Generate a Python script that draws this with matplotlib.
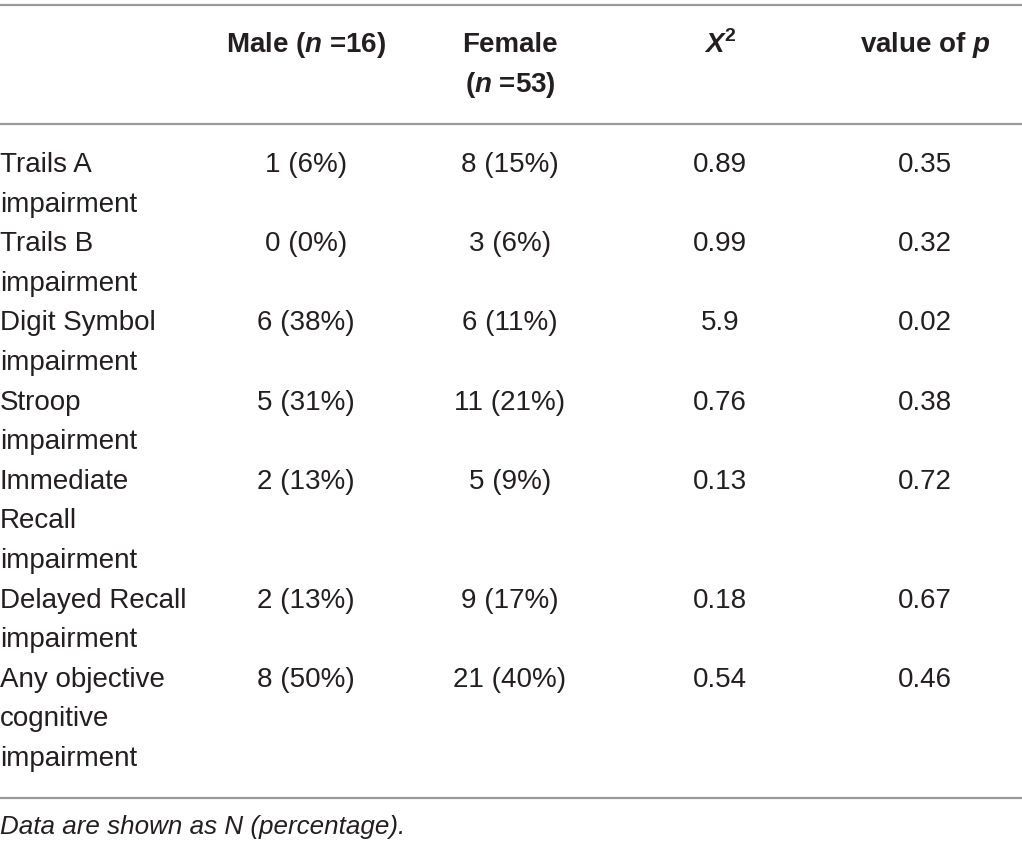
import matplotlib.pyplot as plt

plt.rcParams['font.family'] = ['Liberation Sans', 'DejaVu Sans']
plt.rcParams['mathtext.fontset'] = 'custom'
plt.rcParams['mathtext.bfit'] = 'Liberation Sans:bold:italic'
plt.rcParams['mathtext.bf'] = 'Liberation Sans:bold'

# table content
row_labels = ["Trails A\nimpairment", "Trails B\nimpairment", "Digit Symbol\nimpairment",
              "Stroop\nimpairment", "Immediate\nRecall\nimpairment",
              "Delayed Recall\nimpairment", "Any objective\ncognitive\nimpairment"]
male = ["1 (6%)", "0 (0%)", "6 (38%)", "5 (31%)", "2 (13%)", "2 (13%)", "8 (50%)"]
female = ["8 (15%)", "3 (6%)", "6 (11%)", "11 (21%)", "5 (9%)", "9 (17%)", "21 (40%)"]
chi2 = ["0.89", "0.99", "5.9", "0.76", "0.13", "0.18", "0.54"]
pval = ["0.35", "0.32", "0.02", "0.38", "0.72", "0.67", "0.46"]
headers = [r"Male ($\mathbfit{n}$ =16)", "Female\n" + r"($\mathbfit{n}$ =53)",
           r"$\mathbfit{X}^\mathbf{2}$", r"value of $\mathbfit{p}$"]
note = "Data are shown as N (percentage)."

W, H = 1022, 850
fig = plt.figure(figsize=(W / 100, H / 100), dpi=100)
ax = fig.add_axes([0, 0, 1, 1])
ax.set_xlim(0, W)
ax.set_ylim(H, 0)
ax.axis('off')

fs = 20
line_h = 39.6
col_x = [306, 510, 720, 925]
txt = dict(color='#231f20', fontsize=fs)

# rules
for y in [5, 124, 798]:
    ax.axhline(y, color='#9a9a9a', lw=1.6)

# header
for x, h in zip(col_x, headers):
    for k, part in enumerate(h.split('\n')):
        ax.text(x, 45 + k * line_h, part, ha='center', va='center',
                fontweight='bold', **txt)

y = 165
for i, lab in enumerate(row_labels):
    parts = lab.split('\n')
    for k, part in enumerate(parts):
        ax.text(0, y + k * line_h, part, ha='left', va='center', **txt)
    for x, v in zip(col_x, [male[i], female[i], chi2[i], pval[i]]):
        ax.text(x, y, v, ha='center', va='center', **txt)
    y += len(parts) * line_h

ax.text(0, 827, note, ha='left', va='center', style='italic',
        color='#231f20', fontsize=18.7)

fig.savefig('out.png', dpi=100)
